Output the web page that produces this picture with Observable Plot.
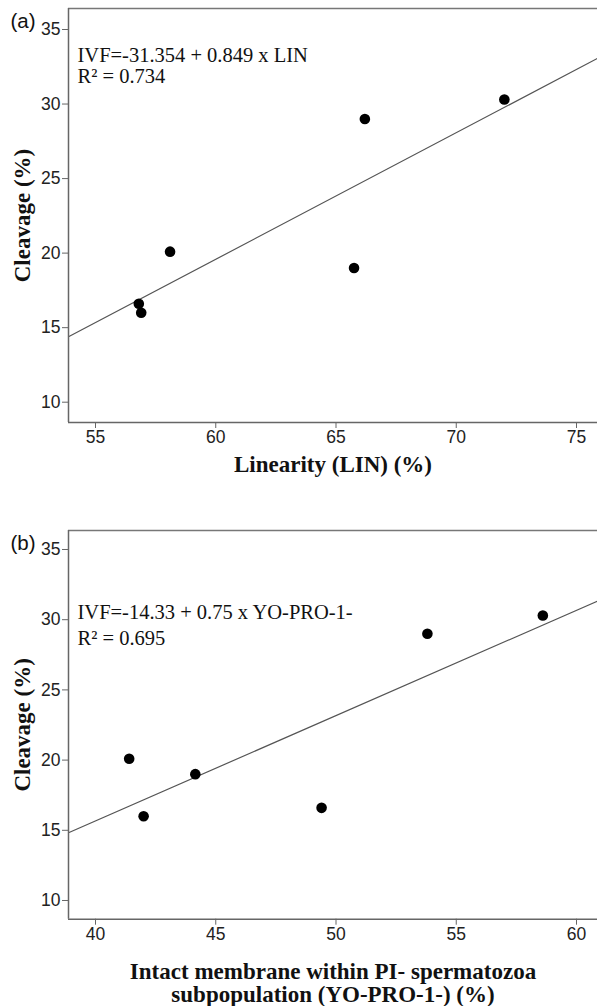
<!DOCTYPE html>
<html>
<head>
<meta charset="utf-8">
<script src="https://cdn.jsdelivr.net/npm/d3@7"></script>
<script src="https://cdn.jsdelivr.net/npm/@observablehq/plot@0.6"></script>
<style>
  html, body { margin: 0; padding: 0; background: #fff; overflow: hidden; }
  #wrap { position: relative; width: 597px; height: 1006px; }
  #wrap svg { position: absolute; left: 0; }
</style>
</head>
<body>
<div id="wrap"></div>
<script>
// ---- Data ----
const linearity = [56.8, 56.9, 58.1, 65.75, 66.2, 72.0];
const cleavageA = [16.6, 16.0, 20.1, 19.0, 29.0, 30.3];
const yoPro = [41.4, 42.0, 44.15, 49.4, 53.8, 58.6];
const cleavageB = [20.1, 16.0, 19.0, 16.6, 29.0, 30.3];

const fitA = {intercept: -31.354, slope: 0.849};
const fitB = {intercept: -14.33, slope: 0.75};

const xTicksA = [55, 60, 65, 70, 75];
const xTicksB = [40, 45, 50, 55, 60];
const yTicks = [10, 15, 20, 25, 30, 35];

const xDomainA = [53.877, 75.873];
const xDomainB = [38.877, 60.873];
const yDomainA = [8.638, 36.409];
const yDomainB = [8.668, 36.353];

const eqA = ["IVF=-31.354 + 0.849 x LIN", "R\u00B2 = 0.734"];
const eqB = ["IVF=-14.33 + 0.75 x YO-PRO-1-", "R\u00B2 = 0.695"];
const xTitleA = ["Linearity (LIN) (%)"];
const xTitleB = ["Intact membrane within PI- spermatozoa", "subpopulation (YO-PRO-1-) (%)"];
const yTitle = "Cleavage (%)";

const serif = "'Liberation Serif', 'Times New Roman', serif";
const sans = "'Liberation Sans', Arial, sans-serif";

function panel({xs, ys, fit, xTicks, xDomain, yDomain, eq, eqDy, xTitle, xTitleDy, tag, tagDy, height, marginTop, marginBottom}) {
  const pts = xs.map((x, i) => ({x, y: ys[i]}));
  const lineData = xDomain.map(x => ({x, y: fit.intercept + fit.slope * x}));
  const marks = [
    Plot.line(lineData, {x: "x", y: "y", stroke: "#555", strokeWidth: 1.2, clip: true}),
    Plot.ruleY([yDomain[1]], {stroke: "#777", strokeWidth: 1.5}),
    Plot.ruleY([yDomain[0]], {stroke: "#666", strokeWidth: 1.5}),
    Plot.ruleX([xDomain[0]], {stroke: "#666", strokeWidth: 1.5}),
    Plot.axisX({ticks: xTicks, tickSize: 6, tickPadding: 2, stroke: "#666", fill: "#222", label: null, fontSize: 17.5}),
    Plot.axisY({ticks: yTicks, tickSize: 6, tickPadding: 2, stroke: "#666", fill: "#222", label: null, fontSize: 17.5}),
    Plot.dot(pts, {x: "x", y: "y", r: 5.3, fill: "black", stroke: "none"}),
    Plot.text([tag], {frameAnchor: "top-left", textAnchor: "start", lineAnchor: "bottom", dx: -58, dy: tagDy, fontFamily: sans, fontSize: 20.5, fill: "#111"}),
    Plot.text([yTitle], {frameAnchor: "left", textAnchor: "middle", lineAnchor: "middle", rotate: -90, dx: -46, fontFamily: serif, fontWeight: "bold", fontSize: 23, fill: "#111"})
  ];
  eq.forEach((t, i) => marks.push(Plot.text([t], {frameAnchor: "top-left", textAnchor: "start", lineAnchor: "bottom", dx: 9, dy: eqDy[i], fontFamily: serif, fontSize: 20.5, fill: "#111"})));
  xTitle.forEach((t, i) => marks.push(Plot.text([t], {frameAnchor: "bottom", textAnchor: "middle", lineAnchor: "bottom", dy: xTitleDy[i], fontFamily: serif, fontWeight: "bold", fontSize: 23, fill: "#111"})));
  return Plot.plot({
    width: 597,
    height,
    marginLeft: 68,
    marginRight: 0,
    marginTop,
    marginBottom,
    style: {fontFamily: sans, fontSize: "17px", color: "#222", background: "transparent", overflow: "visible"},
    x: {domain: xDomain, axis: null},
    y: {domain: yDomain, axis: null},
    marks
  });
}

const wrap = document.getElementById("wrap");
const a = panel({xs: linearity, ys: cleavageA, fit: fitA, xTicks: xTicksA, xDomain: xDomainA, yDomain: yDomainA,
  eq: eqA, eqDy: [53, 74], xTitle: xTitleA, xTitleDy: [49.7], tag: "(a)", tagDy: 19,
  height: 480, marginTop: 8, marginBottom: 58});
a.style.top = "0px";
wrap.appendChild(a);

const b = panel({xs: yoPro, ys: cleavageB, fit: fitB, xTicks: xTicksB, xDomain: xDomainB, yDomain: yDomainB,
  eq: eqB, eqDy: [88.3, 114], xTitle: xTitleB, xTitleDy: [59.3, 83], tag: "(b)", tagDy: 19.3,
  height: 526, marginTop: 50, marginBottom: 87.3});
b.style.top = "480px";
wrap.appendChild(b);
</script>
</body>
</html>
